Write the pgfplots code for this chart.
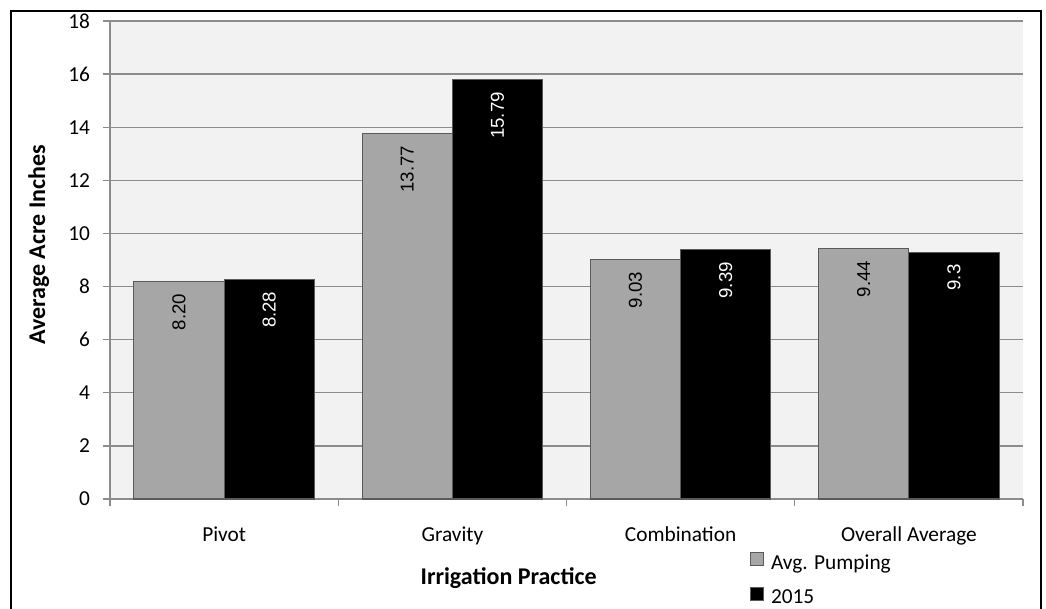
\documentclass[border=0pt]{standalone}
\usepackage{fontspec}
\setmainfont{Carlito}
\newfontfamily\arialf{Liberation Sans}
\usepackage{pgfplots}
\pgfplotsset{compat=1.18}
\definecolor{bgray}{HTML}{F2F2F2}
\definecolor{gridc}{HTML}{8C8C8C}
\definecolor{barg}{HTML}{A6A6A6}
\definecolor{bord}{HTML}{5A5A5A}
\begin{document}
\begin{tikzpicture}
\useasboundingbox (-82.5pt,-81.75pt) rectangle (702pt,374.25pt);
\begin{axis}[
  scale only axis,
  width=684.75pt, height=358.5pt,
  xmin=-0.5, xmax=3.5,
  ymin=0, ymax=18,
  ytick={0,2,...,18},
  xtick={0,1,2,3},
  xticklabels={Pivot,Gravity,Combination,Overall Average},
  minor xtick={-0.5,0.5,1.5,2.5,3.5},
  major x tick style={draw=none},
  minor x tick style={draw=gridc, line width=0.8pt},
  minor tick length=5.5pt,
  major tick length=5.5pt,
  tick align=outside,
  ytick style={draw=gridc, line width=1pt},
  axis x line*=bottom, axis y line*=left,
  axis line style={draw=gridc, line width=1pt, -},
  axis background/.style={fill=bgray},
  ymajorgrids,
  grid style={draw=gridc, line width=1pt},
  tick label style={font=\fontsize{16}{19}\selectfont},
  /pgf/number format/assume math mode=true,
  xticklabel style={anchor=base, yshift=-26.25pt},
  yticklabel style={anchor=east, xshift=-6pt},
  bar width=0.395,
  ybar=0pt,
  point meta=explicit symbolic,
  nodes near coords,
  nodes near coords style={font=\arialf\fontsize{14}{16}\selectfont, rotate=90, anchor=east, inner xsep=9pt},
  legend style={at={(axis description cs:0.701,-0.110)}, anchor=north west, draw=none, fill=none, inner sep=0pt,
    font=\fontsize{16}{19}\selectfont, row sep=9.75pt,
    nodes={inner sep=0pt, text height=11pt, text depth=3.5pt}},
  legend cell align=left,
  legend image code/.code={\draw[#1] (0pt,-1pt) rectangle (9.75pt,8.75pt);},
  clip=false,
]
\addplot[fill=barg, draw=bord, line width=0.8pt, bar shift=-0.1975, nodes near coords style={text=black}]
  coordinates {(0,8.20) [8.20] (1,13.77) [13.77] (2,9.03) [9.03] (3,9.44) [9.44]};
\addlegendentry{\hspace{5pt}Avg. Pumping}
\addplot[fill=black, draw=bord, line width=0.8pt, bar shift=0.1975, nodes near coords style={text=white}]
  coordinates {(0,8.28) [8.28] (1,15.79) [15.79] (2,9.39) [9.39] (3,9.3) [9.3]};
\addlegendentry{\hspace{5pt}2015}
\end{axis}
\node[font=\bfseries\fontsize{18}{21}\selectfont, rotate=90] at (-53.5pt,190.5pt) {Average Acre Inches};
\node[font=\bfseries\fontsize{18}{21}\selectfont, anchor=base] at (299pt,-63.75pt) {Irrigation Practice};
\draw[line width=2pt] (-74.25pt,-100pt) -- (-74.25pt,366pt) -- (698.25pt,366pt) -- (698.25pt,-100pt);
\end{tikzpicture}
\end{document}
